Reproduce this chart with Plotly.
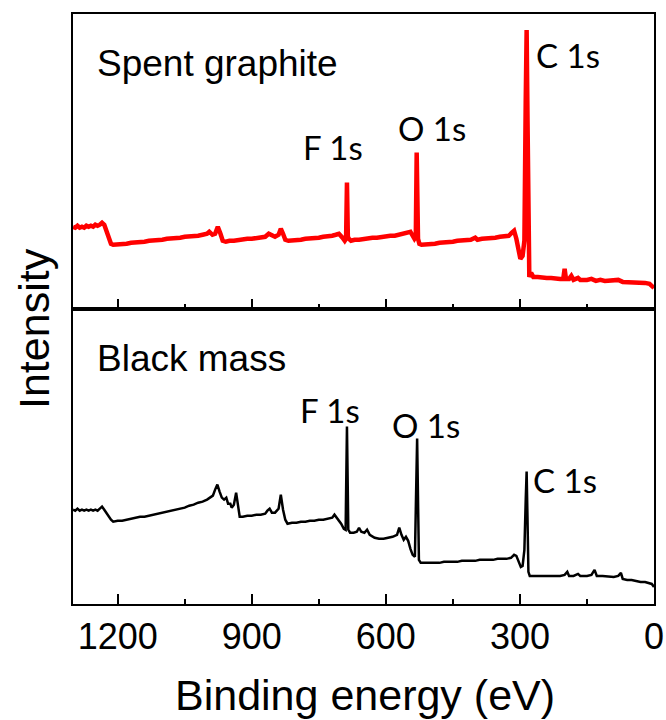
import plotly.graph_objects as go
from plotly.subplots import make_subplots

# Spent graphite survey spectrum (binding energy eV, intensity a.u.)
sg_energy = [1300, 1295, 1290, 1285, 1280, 1275, 1270, 1265, 1260, 1255, 1250, 1245, 1240, 1235, 1230,
             1225, 1220, 1215, 1210, 1200, 1190, 1180, 1170, 1160, 1150, 1140, 1130, 1120, 1110, 1100,
             1090, 1080, 1070, 1060, 1050, 1040, 1030, 1020, 1010, 1000, 995, 988, 982, 976, 970, 965,
             958, 950, 940, 930, 920, 910, 900, 890, 880, 870, 862, 855, 848, 840, 835, 830, 825, 818,
             810, 800, 790, 780, 770, 760, 750, 740, 730, 720, 712, 705, 697, 692, 689, 687, 685, 683,
             678, 670, 660, 650, 640, 630, 620, 610, 600, 590, 580, 570, 560, 550, 545, 540, 536, 533,
             531, 528, 525, 520, 510, 500, 490, 480, 470, 460, 450, 440, 430, 420, 410, 400, 395, 385,
             375, 365, 355, 345, 335, 325, 318, 313, 308, 303, 299, 294, 290, 287, 285, 283, 281, 279,
             275, 270, 260, 250, 240, 230, 220, 210, 203, 200, 197, 190, 185, 180, 170, 165, 150, 140,
             130, 120, 110, 100, 90, 80, 70, 60, 50, 40, 30, 20, 10, 5, 0]
sg_intensity = [82, 81, 83, 81, 82, 81, 83, 82, 83, 82, 84, 83, 84, 86, 84,
                77, 70, 65, 64, 64, 65, 65, 66, 66, 67, 67, 68, 68, 69, 69,
                70, 70, 71, 71, 72, 72, 73, 73, 74, 75, 77, 74, 75, 82, 75, 68,
                67, 68, 68, 69, 69, 70, 70, 71, 71, 72, 75, 73, 72, 74, 80, 75, 69, 68,
                68, 69, 69, 70, 70, 71, 71, 72, 72, 73, 74, 75, 71, 68, 70, 126, 72, 70,
                68, 69, 69, 70, 70, 71, 71, 72, 72, 73, 73, 74, 75, 76, 77, 73, 70, 72,
                156, 70, 65, 64, 64, 65, 65, 66, 66, 67, 67, 68, 68, 69, 69, 71, 69, 70,
                70, 71, 71, 72, 72, 73, 76, 78, 70, 56, 50, 53, 68, 208, 278, 188, 48, 32,
                36, 32, 32, 31, 31, 31, 30, 30, 30, 40, 30, 30, 33, 29, 31, 29, 29, 30,
                28, 29, 28, 28, 28, 29, 27, 27, 27, 27, 27, 26, 25, 23, 21]

# Black mass survey spectrum
bm_energy = [1300, 1295, 1290, 1285, 1280, 1275, 1270, 1265, 1260, 1255, 1250, 1245, 1240, 1235, 1230,
             1222, 1215, 1210, 1200, 1190, 1180, 1170, 1160, 1150, 1140, 1130, 1120, 1110, 1100, 1090,
             1080, 1070, 1060, 1050, 1040, 1030, 1020, 1010, 1000, 993, 987, 982, 977, 972, 967, 962,
             957, 953, 948, 945, 940, 935, 931, 927, 920, 910, 900, 890, 880, 870, 865, 860, 855, 848,
             840, 835, 830, 825, 820, 810, 800, 790, 780, 770, 760, 750, 740, 730, 720, 715, 708, 700,
             694, 690, 687, 684, 680, 672, 665, 660, 655, 648, 642, 636, 625, 615, 605, 595, 585, 575,
             570, 565, 560, 555, 550, 545, 540, 535, 532, 530, 528, 526, 522, 510, 500, 490, 480, 470,
             460, 450, 440, 430, 420, 410, 400, 390, 380, 370, 360, 350, 340, 330, 320, 313, 308, 303,
             298, 294, 290, 287, 285, 283, 281, 278, 270, 260, 250, 240, 230, 220, 210, 200, 194, 190,
             180, 170, 165, 150, 140, 133, 128, 115, 100, 90, 80, 74, 70, 60, 50, 40, 30, 20, 10, 5, 0]
bm_intensity = [94, 93, 95, 93, 94, 93, 94, 93, 94, 93, 94, 93, 95, 97, 94,
                88, 84, 82, 83, 83, 84, 85, 86, 87, 87, 88, 89, 90, 91, 92,
                93, 94, 95, 96, 98, 99, 101, 102, 104, 106, 108, 114, 119, 112, 106, 104,
                106, 100, 100, 96, 99, 111, 96, 87, 87, 88, 88, 89, 89, 90, 93, 95, 91, 91,
                95, 109, 94, 84, 80, 81, 81, 82, 82, 83, 83, 84, 84, 85, 86, 89, 85, 80,
                75, 74, 177, 74, 71, 71, 72, 76, 72, 71, 74, 69, 66, 65, 65, 66, 67, 69,
                76, 69, 64, 67, 63, 55, 49, 47, 104, 165, 104, 44, 41, 41, 41, 41, 41, 42,
                42, 42, 42, 43, 43, 43, 43, 44, 44, 44, 44, 45, 45, 45, 46, 49, 48, 42,
                37, 38, 54, 104, 132, 84, 32, 28, 28, 28, 28, 28, 28, 28, 28, 29, 32, 28,
                28, 30, 28, 28, 29, 34, 28, 28, 27, 27, 28, 31, 25, 24, 24, 23, 22, 22, 21, 20, 17]

x_ticks = [1200, 900, 600, 300, 0]
x_tick_labels = ["1200", "900", "600", "300", "0"]
x_minor_ticks = [1050, 750, 450, 150]

L, R, T, B = 73, 12, 14, 116
W, H = 666, 720
pw, ph = W - L - R, H - T - B

def px(x):
    return (x - L) / pw

def py(y):
    return (H - B - y) / ph

fig = make_subplots(rows=2, cols=1, shared_xaxes=True, vertical_spacing=0)
fig.add_trace(go.Scatter(x=sg_energy, y=sg_intensity, mode="lines",
                         line=dict(color="#ff0000", width=4.5), showlegend=False), row=1, col=1)
fig.add_trace(go.Scatter(x=bm_energy, y=bm_intensity, mode="lines",
                         line=dict(color="#000000", width=2.5), showlegend=False), row=2, col=1)

axis_font = dict(family="Liberation Sans, Arial, sans-serif", size=36, color="black")
for r in (1, 2):
    fig.update_xaxes(range=[1300, 0], tickvals=x_ticks, ticktext=x_tick_labels,
                     ticks="inside", ticklen=10, tickwidth=2, tickcolor="black",
                     minor=dict(tickvals=x_minor_ticks, ticks="inside", ticklen=5,
                                tickwidth=2, tickcolor="black"),
                     showline=True, linewidth=2, linecolor="black", mirror=True,
                     showgrid=False, zeroline=False, tickfont=axis_font, automargin=False,
                     showticklabels=(r == 2), row=r, col=1)
    fig.update_yaxes(range=[0, 294], showline=True, linewidth=2, linecolor="black", mirror=True,
                     showgrid=False, zeroline=False, showticklabels=False, ticks="",
                     automargin=False, row=r, col=1)

lab_font = dict(family="Liberation Sans, Arial, sans-serif", size=37, color="black")
pk_font = dict(family="Lato, Open Sans, sans-serif", size=33, color="black")
anns = [
    ("Spent graphite", 95, 63, "left", lab_font),
    ("Black mass", 95, 358, "left", lab_font),
    ("F 1s", 333, 147, "center", pk_font),
    ("O 1s", 432, 128, "center", pk_font),
    ("C 1s", 568, 55, "center", pk_font),
    ("F 1s", 330, 410, "center", pk_font),
    ("O 1s", 426, 425, "center", pk_font),
    ("C 1s", 565, 480, "center", pk_font),
]
for text, x, y, xa, f in anns:
    fig.add_annotation(text=text, x=px(x), y=py(y), xref="paper", yref="paper",
                       xanchor=xa, yanchor="middle", showarrow=False, font=f)

fig.add_annotation(text="Binding energy (eV)", x=px(365), y=py(695), xref="paper", yref="paper",
                   xanchor="center", yanchor="middle", showarrow=False,
                   font=dict(family="Liberation Sans, Arial, sans-serif", size=43, color="black"))
fig.add_annotation(text="Intensity", x=px(34), y=py(329), xref="paper", yref="paper",
                   xanchor="center", yanchor="middle", showarrow=False, textangle=-90,
                   font=dict(family="Liberation Sans, Arial, sans-serif", size=43, color="black"))

fig.update_layout(width=W, height=H, margin=dict(l=L, r=R, t=T, b=B, autoexpand=False),
                  plot_bgcolor="white", paper_bgcolor="white")
fig.write_html("out.html")
